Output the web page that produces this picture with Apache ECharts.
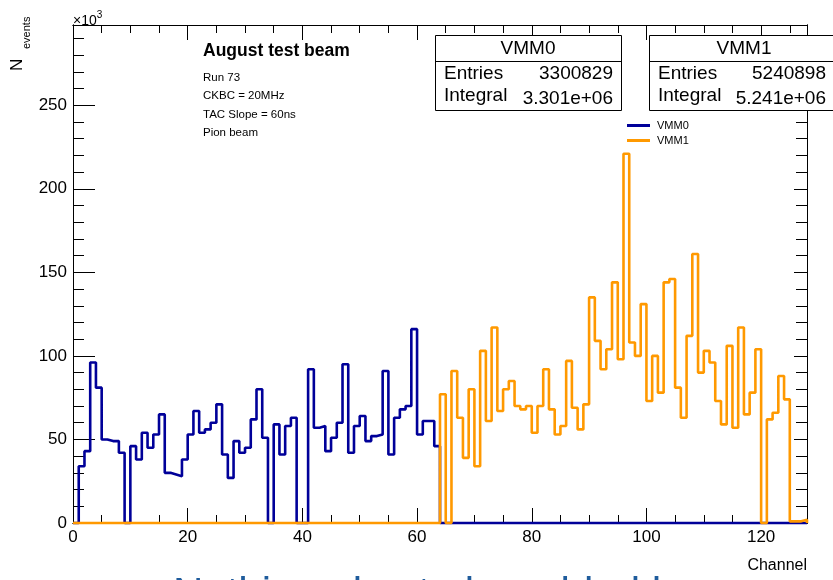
<!DOCTYPE html>
<html>
<head>
<meta charset="utf-8">
<script src="https://cdn.jsdelivr.net/npm/echarts@6/dist/echarts.min.js"></script>
<style>
  html, body { margin: 0; padding: 0; background: #fff; }
  #main { width: 833px; height: 580px; }
</style>
</head>
<body>
<div id="main"></div>
<script>
var myChart = echarts.init(document.getElementById('main'));

// counts per channel, in units of 10^3
var vmm0 = [0, 34, 43, 96, 81, 50, 49, 49, 42, 0,
            46, 38, 54, 45, 53, 65, 30, 29, 28, 38,
            53, 67, 54, 56, 60, 71, 41, 27, 49, 42,
            45, 62, 80, 51, 0, 59, 41, 58, 63, 0,
            0, 92, 57, 58, 43, 51, 60, 95, 42, 58,
            64, 49, 52, 53, 91, 41, 63, 68, 70, 116,
            53, 61, 61, 46];
var vmm1 = [77, 0, 91, 63, 39, 80, 34, 103, 61, 117,
            67, 80, 85, 70, 68, 70, 54, 70, 92, 68,
            53, 58, 97, 69, 56, 71, 135, 109, 92, 104,
            144, 98, 221, 108, 100, 131, 73, 100, 78, 144,
            146, 81, 63, 112, 161, 90, 103, 96, 73, 59,
            106, 57, 117, 65, 78, 104, 0, 62, 66, 88,
            74, 1, 1, 2];
var nChannels = 128;
var xTicks = [0, 20, 40, 60, 80, 100, 120];
var yTicks = [0, 50, 100, 150, 200, 250];

var stats = [
  { name: 'VMM0', entries: '3300829', integral: '3.301e+06' },
  { name: 'VMM1', entries: '5240898', integral: '5.241e+06' }
];

// full 128-channel histograms: VMM0 fills 0-63, VMM1 fills 64-127
function histo(vals, offset) {
  var h = [];
  for (var i = 0; i < nChannels; i++) {
    var j = i - offset;
    h.push(j >= 0 && j < vals.length ? vals[j] : 0);
  }
  return h;
}
// step outline: starts and ends on the baseline like ROOT's HIST
function outline(h) {
  var pts = [[0, 0]];
  for (var i = 0; i < h.length; i++) pts.push([i, h[i]]);
  pts.push([h.length, h[h.length - 1]]);
  pts.push([h.length, 0]);
  return pts;
}

var font = 'Liberation Sans, Arial, Helvetica, sans-serif';
var gridPos = { left: 73, right: 26, top: 25, bottom: 57 };

function xAx(pos, interval, len, labels) {
  return {
    type: 'value', position: pos, min: 0, max: nChannels, interval: interval,
    axisLine: { show: true, onZero: false, lineStyle: { color: '#000', width: 1 } },
    axisTick: { show: true, inside: true, length: len, lineStyle: { color: '#000' } },
    axisLabel: {
      show: labels, color: '#000', fontSize: 17, fontFamily: font, margin: 6,
      showMaxLabel: false,
      formatter: function (v) { return xTicks.indexOf(v) >= 0 ? String(v) : ''; }
    },
    splitLine: { show: false }
  };
}
function yAx(pos, interval, len, labels) {
  return {
    type: 'value', position: pos, min: 0, max: 298, interval: interval,
    axisLine: { show: true, onZero: false, lineStyle: { color: '#000', width: 1 } },
    axisTick: { show: true, inside: true, length: len, lineStyle: { color: '#000' } },
    axisLabel: {
      show: labels, color: '#000', fontSize: 17, fontFamily: font, margin: 6,
      showMaxLabel: false,
      formatter: function (v) { return yTicks.indexOf(v) >= 0 ? String(v) : ''; }
    },
    splitLine: { show: false }
  };
}

function statBox(s, x, w) {
  var els = [
    { type: 'rect', shape: { x: x + 0.5, y: 35.5, width: w, height: 75 },
      style: { fill: '#fff', stroke: '#000', lineWidth: 1 }, z: 10 },
    { type: 'line', shape: { x1: x, y1: 61.5, x2: x + w, y2: 61.5 },
      style: { stroke: '#000', lineWidth: 1 }, z: 11 },
    { type: 'text', x: x + w / 2, y: 49, z: 11,
      style: { text: s.name, font: '19px ' + font, fill: '#000', align: 'center', verticalAlign: 'middle' } },
    { type: 'text', x: x + 9, y: 74, z: 11,
      style: { text: 'Entries', font: '19px ' + font, fill: '#000', align: 'left', verticalAlign: 'middle' } },
    { type: 'text', x: x + 9, y: 96, z: 11,
      style: { text: 'Integral', font: '19px ' + font, fill: '#000', align: 'left', verticalAlign: 'middle' } }
  ];
  return els;
}

var graphics = [];
graphics = graphics.concat(statBox(stats[0], 435, 186));
graphics.push({ type: 'text', x: 613, y: 74, z: 11,
  style: { text: stats[0].entries, font: '19px ' + font, fill: '#000', align: 'right', verticalAlign: 'middle' } });
graphics.push({ type: 'text', x: 613, y: 99, z: 11,
  style: { text: stats[0].integral, font: '19px ' + font, fill: '#000', align: 'right', verticalAlign: 'middle' } });
graphics = graphics.concat(statBox(stats[1], 649, 190));
graphics.push({ type: 'text', x: 826, y: 74, z: 11,
  style: { text: stats[1].entries, font: '19px ' + font, fill: '#000', align: 'right', verticalAlign: 'middle' } });
graphics.push({ type: 'text', x: 826, y: 99, z: 11,
  style: { text: stats[1].integral, font: '19px ' + font, fill: '#000', align: 'right', verticalAlign: 'middle' } });

// run info
graphics.push({ type: 'text', x: 203, y: 51,
  style: { text: 'August test beam', font: 'bold 17.5px ' + font, fill: '#000', verticalAlign: 'middle' } });
var infoLines = ['Run 73', 'CKBC = 20MHz', 'TAC Slope = 60ns', 'Pion beam'];
infoLines.forEach(function (t, i) {
  graphics.push({ type: 'text', x: 203, y: 78 + i * 18.3,
    style: { text: t, font: '11.5px ' + font, fill: '#000', verticalAlign: 'middle' } });
});

// axis titles
graphics.push({ type: 'text', x: 73, y: 19,
  style: { text: '{a|×10}{b|3}', fill: '#000', verticalAlign: 'middle',
    rich: { a: { fontSize: 14, fontFamily: font, verticalAlign: 'bottom' },
            b: { fontSize: 10, fontFamily: font, verticalAlign: 'top', padding: [0, 0, 8, 0] } } } });
graphics.push({ type: 'text', x: 26, y: 71, rotation: Math.PI / 2,
  style: { text: 'N', font: '17px ' + font, fill: '#000', align: 'left', verticalAlign: 'bottom' } });
graphics.push({ type: 'text', x: 32, y: 49, rotation: Math.PI / 2,
  style: { text: 'events', font: '11px ' + font, fill: '#000', align: 'left', verticalAlign: 'bottom' } });
graphics.push({ type: 'text', x: 807, y: 566,
  style: { text: 'Channel', font: '16px ' + font, fill: '#000', align: 'right', verticalAlign: 'middle' } });

// slide title peeking in at the bottom
graphics.push({ type: 'text', x: 173, y: 574,
  style: { text: 'Nothing else to be added here', font: '42px ' + font, fill: '#1f5c9c', verticalAlign: 'top' } });

var option = {
  backgroundColor: '#fff',
  animation: false,
  textStyle: { fontFamily: font },
  grid: gridPos,
  legend: {
    data: ['VMM0', 'VMM1'],
    orient: 'vertical',
    left: 627, top: 120,
    padding: 0,
    itemGap: 4,
    itemWidth: 23, itemHeight: 3,
    icon: 'rect',
    textStyle: { fontSize: 11, color: '#000', fontFamily: font, padding: [0, 0, 0, 2] }
  },
  xAxis: [
    xAx('bottom', 20, 15, true),
    xAx('bottom', 5, 8, false),
    xAx('top', 20, 15, false),
    xAx('top', 5, 8, false)
  ],
  yAxis: [
    yAx('left', 50, 22, true),
    yAx('left', 10, 11, false),
    yAx('right', 50, 13, false),
    yAx('right', 10, 11, false)
  ],
  series: [
    {
      name: 'VMM0', type: 'line', step: 'end', symbol: 'none', clip: false,
      xAxisIndex: 0, yAxisIndex: 0,
      color: '#000099',
      lineStyle: { color: '#000099', width: 2.6 },
      data: outline(histo(vmm0, 0))
    },
    {
      name: 'VMM1', type: 'line', step: 'end', symbol: 'none', clip: false,
      xAxisIndex: 0, yAxisIndex: 0,
      color: '#ff9900',
      lineStyle: { color: '#ff9900', width: 2.6 },
      data: outline(histo(vmm1, 64))
    }
  ],
  graphic: graphics
};

myChart.setOption(option);
</script>
</body>
</html>
